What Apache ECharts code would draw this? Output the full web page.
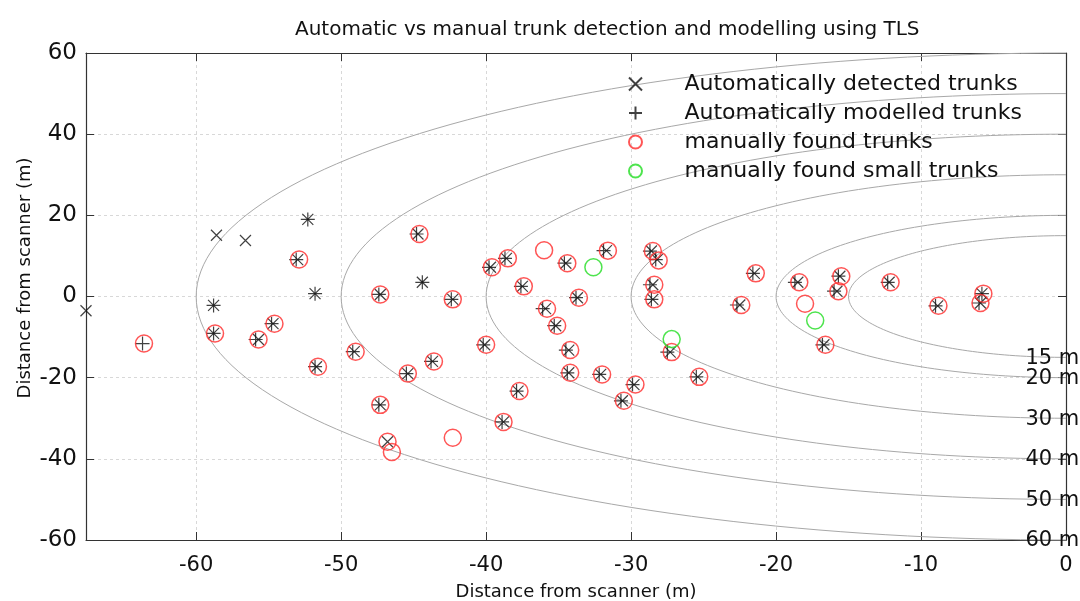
<!DOCTYPE html>
<html>
<head>
<meta charset="utf-8">
<script src="https://cdn.jsdelivr.net/npm/echarts@6/dist/echarts.min.js"></script>
<style>
  html, body { margin: 0; padding: 0; background: #fff; }
  #chart { width: 1080px; height: 601px; }
</style>
</head>
<body>
<div id="chart"></div>
<script>
// trunk positions, metres
const detectedTrunks = [
  [-67.6, -3.5], [-58.6, 15.1], [-56.6, 13.8], [-52.3, 19.0], [-58.8, -2.2],
  [-58.8, -9.1], [-55.7, -10.6], [-54.7, -6.7], [-53.0, 9.1], [-51.8, 0.7],
  [-51.7, -17.3], [-49.1, -13.6], [-47.3, 0.5], [-47.3, -26.7], [-46.8, -35.8],
  [-45.4, -19.0], [-44.7, 15.4], [-44.4, 3.5], [-43.7, -16.0], [-42.3, -0.7],
  [-40.1, -11.9], [-39.7, 7.2], [-38.6, 9.4], [-38.8, -30.9], [-37.8, -23.3],
  [-37.5, 2.5], [-35.9, -3.0], [-35.2, -7.2], [-34.5, 8.2], [-34.3, -13.2],
  [-34.3, -18.8], [-33.7, -0.3], [-32.1, -19.2], [-31.7, 11.3], [-29.8, -21.7],
  [-30.6, -25.7], [-28.6, 11.2], [-28.2, 9.1], [-28.5, 2.9], [-28.5, -0.7],
  [-27.3, -13.7], [-25.4, -19.8], [-22.5, -2.1], [-21.5, 5.7], [-18.5, 3.5],
  [-16.7, -11.9], [-15.6, 5.0], [-15.8, 1.3], [-12.2, 3.5], [-8.85, -2.3],
  [-5.8, 0.7], [-5.9, -1.6]
];
const modelledTrunks = [
  [-52.3, 19.0], [-58.8, -2.2],
  [-63.7, -11.6], [-58.8, -9.1], [-55.9, -10.6], [-54.8, -6.7], [-53.1, 9.1], [-51.8, 0.7],
  [-51.8, -17.3], [-49.2, -13.6], [-47.4, 0.5], [-47.4, -26.7],
  [-45.5, -19.0], [-44.8, 15.4], [-44.4, 3.5], [-43.8, -16.0], [-42.4, -0.7],
  [-40.2, -11.9], [-39.8, 7.2], [-38.7, 9.4], [-38.9, -30.9], [-37.9, -23.3],
  [-37.6, 2.5], [-36.1, -3.0], [-35.3, -7.2], [-34.6, 8.2], [-34.5, -13.2],
  [-34.4, -18.8], [-33.8, -0.3], [-32.2, -19.2], [-31.9, 11.3], [-29.9, -21.7],
  [-30.7, -25.7], [-28.7, 11.2], [-28.3, 9.1], [-28.7, 2.9], [-28.6, -0.7],
  [-27.5, -13.7], [-25.5, -19.8], [-22.7, -2.1], [-21.6, 5.7], [-18.7, 3.5],
  [-16.8, -11.9], [-15.7, 5.0], [-16.0, 1.3], [-12.3, 3.5], [-9.0, -2.3],
  [-5.8, 0.7], [-6.0, -1.6]
];
const manualTrunks = [
  [-63.6, -11.6], [-58.7, -9.1], [-55.7, -10.6], [-54.6, -6.7], [-52.9, 9.1],
  [-51.6, -17.3], [-49.0, -13.6], [-47.3, 0.5], [-47.3, -26.7], [-46.8, -35.8],
  [-46.5, -38.3], [-45.4, -19.0], [-44.6, 15.4], [-43.6, -16.0], [-42.3, -0.7],
  [-42.3, -34.8], [-40.0, -11.9], [-39.6, 7.2], [-38.5, 9.4], [-38.8, -30.9],
  [-37.7, -23.3], [-37.4, 2.5], [-36.0, 11.4], [-35.8, -3.0], [-35.1, -7.2],
  [-34.4, 8.2], [-34.2, -13.2], [-34.2, -18.8], [-33.6, -0.3], [-32.0, -19.2],
  [-31.6, 11.3], [-29.7, -21.7], [-30.5, -25.7], [-28.5, 11.2], [-28.1, 8.9],
  [-28.4, 2.9], [-28.4, -0.7], [-27.2, -13.7], [-25.3, -19.8], [-22.4, -2.1],
  [-21.4, 5.7], [-18.0, -1.8], [-18.4, 3.5], [-16.6, -11.9], [-15.5, 5.0],
  [-15.7, 1.3], [-12.1, 3.5], [-8.8, -2.3], [-5.7, 0.7], [-5.9, -1.6]
];
const manualSmallTrunks = [[-32.6, 7.2], [-27.2, -10.5], [-17.3, -5.9]];

// range rings round the scanner
const ringRadii = [15, 20, 30, 40, 50, 60];
const ringLabels = ['15 m', '20 m', '30 m', '40 m', '50 m', '60 m'];

const xTicks = [-60, -50, -40, -30, -20, -10, 0];

const fontName = 'DejaVu Sans';
const crossPath = 'path://M0,0L10,10M10,0L0,10';
const plusPath = 'path://M5,0L5,10M0,5L10,5';

const chart = echarts.init(document.getElementById('chart'));

const gridLine = { show: true, lineStyle: { color: '#d8d8d8', type: [3, 3], width: 1 } };
const axisLineStyle = { onZero: false, lineStyle: { color: '#333', width: 1.2 } };

const option = {
  animation: false,
  backgroundColor: '#fff',
  textStyle: { fontFamily: fontName },
  title: {
    text: 'Automatic vs manual trunk detection and modelling using TLS',
    left: 290,
    top: 15,
    textStyle: { fontSize: 20, fontWeight: 'normal', color: '#111', fontFamily: fontName }
  },
  legend: {
    orient: 'vertical',
    left: 623,
    top: 68,
    itemWidth: 88,
    itemHeight: 13,
    itemGap: 7,
    textStyle: { fontSize: 22, lineHeight: 22, color: '#111', fontFamily: fontName },
    data: [
      'Automatically detected trunks',
      'Automatically modelled trunks',
      'manually found trunks',
      'manually found small trunks'
    ]
  },
  grid: { left: 86, right: 14, top: 53, bottom: 61, outerBoundsMode: 'none', containLabel: false },
  xAxis: [
    {
      type: 'value',
      min: -67.6,
      max: 0,
      position: 'bottom',
      axisLine: axisLineStyle,
      axisTick: { inside: true, length: 8, customValues: xTicks, lineStyle: { color: '#333' } },
      axisLabel: { customValues: xTicks, fontSize: 21, color: '#111', margin: 15 },
      splitLine: gridLine,
      name: 'Distance from scanner (m)',
      nameLocation: 'middle',
      nameGap: 43,
      nameTextStyle: { fontSize: 18, color: '#111' }
    },
    {
      type: 'value',
      min: -67.6,
      max: 0,
      position: 'top',
      axisLine: axisLineStyle,
      axisTick: { inside: true, length: 8, customValues: xTicks, lineStyle: { color: '#333' } },
      axisLabel: { show: false },
      splitLine: { show: false }
    }
  ],
  yAxis: [
    {
      type: 'value',
      min: -60,
      max: 60,
      interval: 20,
      position: 'left',
      axisLine: axisLineStyle,
      axisTick: { inside: true, length: 8, lineStyle: { color: '#333' } },
      axisLabel: { fontSize: 23, color: '#111', margin: 9 },
      splitLine: gridLine
    },
    {
      type: 'value',
      min: -60,
      max: 60,
      interval: 20,
      position: 'right',
      axisLine: axisLineStyle,
      axisTick: { inside: true, length: 8, lineStyle: { color: '#333' } },
      axisLabel: { show: false },
      splitLine: { show: false }
    }
  ],
  graphic: [
    {
      type: 'text',
      x: 25,
      y: 278,
      rotation: Math.PI / 2,
      style: {
        text: 'Distance from scanner (m)',
        fontSize: 18,
        fontFamily: fontName,
        fill: '#111',
        align: 'center',
        verticalAlign: 'middle'
      }
    }
  ],
  series: [
    {
      name: 'rings',
      type: 'custom',
      silent: true,
      clip: false,
      z: 1,
      data: ringRadii.map((r, i) => [r, i]),
      encode: { x: -1, y: -1 },
      renderItem: function (params, api) {
        const r = api.value(0);
        const idx = api.value(1);
        const pts = [];
        const n = 120;
        for (let k = 0; k <= n; k++) {
          const t = Math.PI / 2 + Math.PI * k / n;
          pts.push(api.coord([r * Math.cos(t), r * Math.sin(t)]));
        }
        const lab = api.coord([-2.8, -r]);
        return {
          type: 'group',
          children: [
            {
              type: 'polyline',
              shape: { points: pts },
              style: { stroke: '#a8a8a8', lineWidth: 1, fill: null }
            },
            {
              type: 'text',
              x: lab[0],
              y: lab[1] + 1,
              z2: 10,
              style: {
                text: ringLabels[idx],
                fontSize: 21,
                fontFamily: fontName,
                fill: '#111',
                align: 'left',
                verticalAlign: 'middle'
              }
            }
          ]
        };
      }
    },
    {
      name: 'Automatically detected trunks',
      type: 'scatter',
      data: detectedTrunks,
      symbol: crossPath,
      symbolSize: 11,
      itemStyle: { color: 'rgba(0,0,0,0)', borderColor: '#111', borderWidth: 1.2 },
      z: 3
    },
    {
      name: 'Automatically modelled trunks',
      type: 'scatter',
      data: modelledTrunks,
      symbol: plusPath,
      symbolSize: 14,
      itemStyle: { color: 'rgba(0,0,0,0)', borderColor: '#111', borderWidth: 1.2 },
      z: 3
    },
    {
      name: 'manually found trunks',
      type: 'scatter',
      data: manualTrunks,
      symbol: 'circle',
      symbolSize: 17,
      itemStyle: { color: 'rgba(0,0,0,0)', borderColor: '#ff2a2a', borderWidth: 1.5 },
      z: 4
    },
    {
      name: 'manually found small trunks',
      type: 'scatter',
      data: manualSmallTrunks,
      symbol: 'circle',
      symbolSize: 17,
      itemStyle: { color: 'rgba(0,0,0,0)', borderColor: '#22dd22', borderWidth: 1.5 },
      z: 4
    }
  ]
};

chart.setOption(option);
</script>
</body>
</html>
